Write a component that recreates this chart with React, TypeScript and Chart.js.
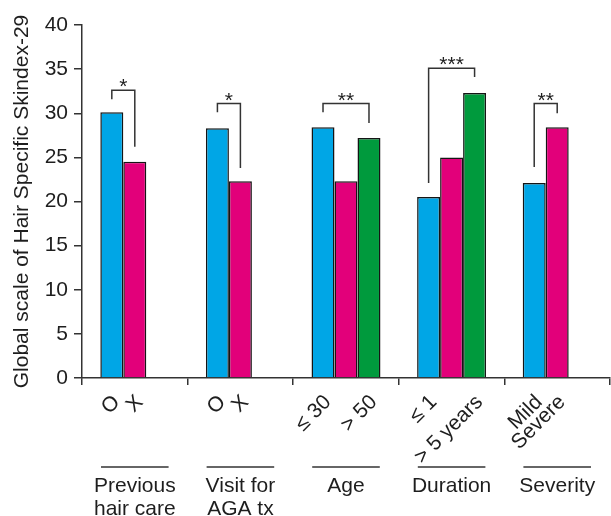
import React, { useEffect, useRef } from 'react';
import { Chart, registerables } from 'chart.js';

Chart.register(...registerables);

const groupLabels: string[][] = [['Previous', 'hair care'], ['Visit for', 'AGA tx'], ['Age'], ['Duration'], ['Severity']];
const blueValues: (number | null)[] = [30.1, 28.3, 28.4, 20.5, 22.1];
const pinkValues: (number | null)[] = [24.5, 22.3, 22.3, 25.0, 28.4];
const greenValues: (number | null)[] = [null, null, 27.2, 32.3, null];
const blueTickLabels = ['O', 'O', '≤ 30', '≤ 1', 'Mild'];
const pinkTickLabels = ['X', 'X', '', '', 'Severe'];
const greenTickLabels = ['', '', '> 50', '> 5 years', ''];
const yMin = 0;
const yMax = 40;
const yStep = 5;
const yTitle = 'Global scale of Hair Specific Skindex-29';

const bracketGroups = [0, 1, 2, 3, 4];
const bracketFromSeries = [0, 0, 0, 0, 0];
const bracketToSeries = [1, 1, 2, 2, 1];
const bracketTop = [32.6, 31.1, 31.1, 35.1, 31.1];
const bracketLeftEnd = [31.6, 30.1, 30.1, 22.1, 23.9];
const bracketRightEnd = [26.2, 23.8, 28.9, 34.1, 30.0];
const bracketStars = ['*', '*', '**', '***', '**'];

const FONT = '"Liberation Sans", Arial, sans-serif';
const TEXT = '#1e1e1e';
const LINE = '#333';

const annotations = {
  id: 'annotations',
  afterDraw(chart: any) {
    const ctx: CanvasRenderingContext2D = chart.ctx;
    const xs = chart.scales.x;
    const ys = chart.scales.y;
    const metas = [0, 1, 2].map((i) => chart.getDatasetMeta(i));
    const barX = (s: number, g: number) => metas[s].data[g].x;
    ctx.save();
    ctx.strokeStyle = LINE;
    ctx.lineWidth = 1.5;
    ctx.fillStyle = TEXT;
    ctx.font = `21px ${FONT}`;
    for (let i = 0; i < bracketGroups.length; i++) {
      const g = bracketGroups[i];
      const x1 = barX(bracketFromSeries[i], g);
      const x2 = barX(bracketToSeries[i], g);
      const yt = ys.getPixelForValue(bracketTop[i]);
      const y1 = ys.getPixelForValue(bracketLeftEnd[i]);
      const y2 = ys.getPixelForValue(bracketRightEnd[i]);
      ctx.beginPath();
      ctx.moveTo(x1, y1);
      ctx.lineTo(x1, yt);
      ctx.lineTo(x2, yt);
      ctx.lineTo(x2, y2);
      ctx.stroke();
      ctx.textAlign = 'center';
      ctx.textBaseline = 'alphabetic';
      ctx.fillText(bracketStars[i], (x1 + x2) / 2, yt + 3);
    }
    const labelSets = [blueTickLabels, pinkTickLabels, greenTickLabels];
    for (let s = 0; s < 3; s++) {
      for (let g = 0; g < labelSets[s].length; g++) {
        const t = labelSets[s][g];
        if (!t) continue;
        ctx.save();
        ctx.translate(barX(s, g) + 5, xs.top + 21);
        ctx.rotate(-Math.PI / 4);
        ctx.textAlign = 'right';
        ctx.textBaseline = 'middle';
        ctx.fillText(t, 0, 0);
        ctx.restore();
      }
    }
    const catW = xs.width / groupLabels.length;
    for (let g = 0; g < groupLabels.length; g++) {
      const cx = xs.getPixelForValue(g);
      const ly = xs.top + 89;
      ctx.beginPath();
      ctx.moveTo(cx - catW * 0.32, ly);
      ctx.lineTo(cx + catW * 0.32, ly);
      ctx.stroke();
      ctx.textAlign = 'center';
      ctx.textBaseline = 'alphabetic';
      groupLabels[g].forEach((line, k) => {
        ctx.fillText(line, cx, xs.top + 114 + k * 23);
      });
    }
    ctx.restore();
  },
};

export default function App() {
  const ref = useRef<HTMLCanvasElement>(null);
  useEffect(() => {
    if (!ref.current) return;
    const common = { borderColor: '#151515', borderWidth: 1.5, borderSkipped: 'start', categoryPercentage: 0.653, barPercentage: 1 };
    const chart = new Chart(ref.current, {
      type: 'bar',
      data: {
        labels: groupLabels.map((l) => l.join(' ')),
        datasets: [
          { data: blueValues, backgroundColor: '#00a6e6', ...common },
          { data: pinkValues, backgroundColor: '#e2007a', ...common },
          { data: greenValues, backgroundColor: '#009a3d', ...common },
        ] as any,
      },
      options: {
        animation: false,
        responsive: false,
        layout: { padding: { left: 0, right: 1, top: 25, bottom: 0 } },
        plugins: { legend: { display: false }, tooltip: { enabled: false } },
        scales: {
          x: {
            grid: { display: true, drawOnChartArea: false, drawTicks: true, tickLength: 7, color: LINE, lineWidth: 1.5, offset: true },
            border: { display: true, color: LINE, width: 1.5 },
            ticks: { display: false },
            afterFit: (s: any) => { s.height = 138; },
          },
          y: {
            min: yMin,
            max: yMax,
            ticks: { stepSize: yStep, color: TEXT, font: { family: FONT, size: 21 }, padding: 6 },
            grid: { display: true, drawOnChartArea: false, drawTicks: true, tickLength: 8, color: LINE, lineWidth: 1.5 },
            border: { display: true, color: LINE, width: 1.5 },
            title: { display: true, text: yTitle, color: TEXT, font: { family: FONT, size: 21 }, padding: { top: 10, bottom: 0 } },
            afterFit: (s: any) => { s.width = 82; },
          },
        },
      } as any,
      plugins: [annotations],
    });
    return () => chart.destroy();
  }, []);
  return (
    <div style={{ position: 'fixed', left: 0, top: 0, width: 611, height: 516, background: '#fff' }}>
      <canvas ref={ref} width={611} height={516} style={{ display: 'block' }} />
    </div>
  );
}
